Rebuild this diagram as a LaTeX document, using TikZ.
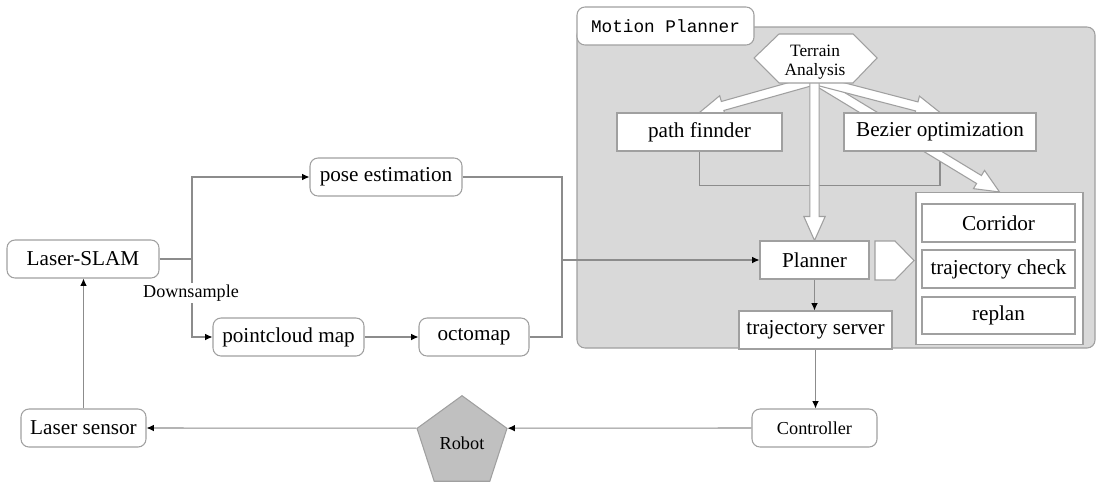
\documentclass[tikz,border=0pt]{standalone}
\usepackage{fontspec}
\setmainfont{Liberation Serif}
\setmonofont{Liberation Mono}
\usetikzlibrary{calc,arrows.meta,shapes.geometric}

\definecolor{edgegray}{HTML}{A0A0A0}
\definecolor{linegray}{HTML}{8C8C8C}
\definecolor{panelgray}{HTML}{D9D9D9}
\definecolor{robotgray}{HTML}{C0C0C0}

% wide white block arrow from #1 to #2
\newcommand\hollowarrow[2]{%
  \coordinate (hb) at ($(#2)!18pt!(#1)$);
  \draw[hollow] ($(#1)!3.5pt!90:(#2)$) -- ($(hb)!3.5pt!90:(#2)$)
    -- ($(hb)!8pt!90:(#2)$) -- (#2) -- ($(hb)!8pt!-90:(#2)$)
    -- ($(hb)!3.5pt!-90:(#2)$) -- ($(#1)!3.5pt!-90:(#2)$) -- cycle;}

\begin{document}
\begin{tikzpicture}[x=0.75pt,y=-0.75pt,
  sz/.style 2 args={minimum width=#1*0.75pt, minimum height=#2*0.75pt},
  box/.style={draw=edgegray, fill=white, line width=0.8pt, inner sep=0pt,
    font=\fontsize{15.9}{18}\selectfont},
  rbox/.style={box, rounded corners=6pt},
  conn/.style={draw=linegray, line width=0.8pt},
  flow/.style={conn, -{Latex[length=5.5pt,width=5pt,color=black]}},
  hollow/.style={draw=edgegray, fill=white, line width=0.8pt, line join=miter}
]
\useasboundingbox (0,0) rectangle (1098,482);

% motion planner panel
\node[draw=edgegray, fill=panelgray, line width=0.8pt, rounded corners=6pt,
  sz={518}{321}] (panel) at (836,187.5) {};
\node[rbox, sz={177}{38}, font=\ttfamily\fontsize{13.3}{15}\selectfont]
  (mplabel) at (665.5,26) {Motion Planner};

% boxes inside the panel
\node[box, sz={165}{38}] (pf) at (699.5,132) {path finnder};
\node[box, sz={192}{38}] (bz) at (940,132) {Bezier optimization};
\node[box, sz={109}{38}] (planner) at (814.5,260) {Planner};
\node[box, sz={167}{152}] (grp) at (999.5,268.5) {};
\node[box, sz={153}{38}] (corr) at (998.5,223) {Corridor};
\node[box, sz={153}{38}] (tcheck) at (998.5,269) {trajectory check};
\node[box, sz={153}{37}] (replan) at (998.5,315.5) {replan};
\node[box, sz={153}{38}] (tserver) at (815.5,330) {trajectory server};

% path finder / bezier link
\draw[conn] (pf.south) -- ++(0,34) -| (bz.south);

% block arrows out of terrain analysis
\coordinate (ta) at (815,80);
\coordinate (tav) at (814.5,80);
\hollowarrow{ta}{grp.north}
\hollowarrow{ta}{pf.north}
\hollowarrow{ta}{bz.north}
\hollowarrow{tav}{planner.north}

% redraw boxes over the arrow tails
\node[box, sz={165}{38}] at (699.5,132) {path finnder};
\node[box, sz={192}{38}] at (940,132) {Bezier optimization};
\node[box, sz={109}{38}] at (814.5,260) {Planner};

% terrain analysis hexagon
\draw[hollow] (754,58) -- (779,34) -- (853,34) -- (877,58) -- (853,83)
  -- (779,83) -- cycle;
\node[align=center, inner sep=0pt, font=\fontsize{13}{14}\selectfont]
  (terrain) at (815,62) {Terrain\\Analysis};

% output arrow of the planner
\draw[hollow] (875,241) -- (895,241) -- (914,260.5) -- (895,280)
  -- (875,280) -- cycle;

% left part
\node[rbox, sz={152}{38}] (slam) at (83,259) {Laser-SLAM};
\node[rbox, sz={152}{38}] (pose) at (386,177) {pose estimation};
\node[rbox, sz={151}{38}] (pcl) at (288.5,337) {pointcloud map};
\node[rbox, sz={110}{38}] (octo) at (474,337) {octomap};

% bottom row
\node[rbox, sz={125}{38}] (lsensor) at (83.5,428) {Laser sensor};
\node[rbox, sz={125}{38}, font=\fontsize{13.7}{16}\selectfont]
  (ctrl) at (814.5,428) {Controller};
\node[regular polygon, regular polygon sides=5, minimum size=94.6*0.75pt,
  inner sep=0pt, draw=edgegray, fill=robotgray, line width=0.8pt,
  font=\fontsize{13.7}{16}\selectfont] (robot) at (462,443) {Robot};

% connectors
\coordinate (br) at (192,259);
\draw[conn] (slam.east) -- (br);
\draw[flow] (br) |- (pose.west);
\draw[flow] (br) |- (pcl.west);
\node[fill=white, inner sep=1pt, font=\fontsize{13.6}{16}\selectfont]
  (down) at (191,293) {Downsample};
\draw[flow] (pcl.east) -- (octo.west);

\coordinate (mg) at (562,260);
\draw[conn] (pose.east) -| (mg);
\draw[conn] (octo.east) -| (mg);
\draw[flow] (mg) -- (planner.west);

\draw[flow] (planner.south) -- (planner.south |- tserver.north);
\draw[flow] (tserver.south) -- (tserver.south |- ctrl.north);
\draw[flow] (ctrl.west) -- (robot.corner 5);
\draw[flow] (robot.corner 2) -- (lsensor.east);
\draw[flow] (lsensor.north) -- (lsensor.north |- slam.south);
\end{tikzpicture}
\end{document}
